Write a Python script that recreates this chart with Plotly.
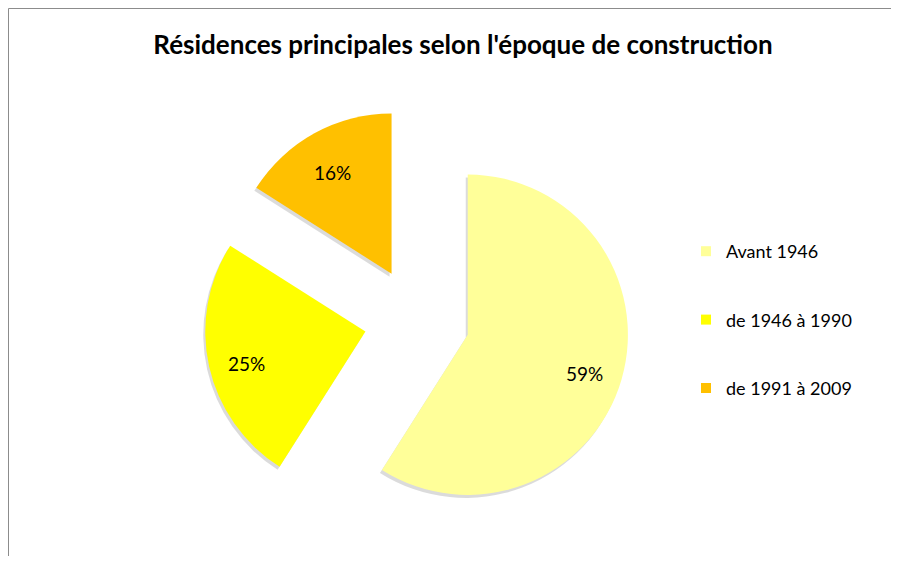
import math
import plotly.graph_objects as go

title_text = "Résidences principales selon l'époque de construction"
categories = ["Avant 1946", "de 1946 à 1990", "de 1991 à 2009"]
shares = [59, 25, 16]
colors = ["#FFFF99", "#FFFF00", "#FFC000"]

# figure sized so that, with the page's 8px body margin, no scrollbars appear
W, H = 883, 548
OFF = 8          # page margin around the figure
FONT = "Lato"
PULL = 0.33
LABEL_R = 0.76   # label distance from slice apex, as fraction of radius

# pie box in page pixels (left, top, right, bottom) -> figure pixels
bx0, by0, bx1, by1 = [v - OFF for v in (204, 107, 630, 533)]
dom_x = [bx0 / W, bx1 / W]
dom_y = [1 - by1 / H, 1 - by0 / H]

fig = go.Figure()

# drop shadow (offset copy of the pie)
sdx, sdy = -2, 3
fig.add_trace(go.Pie(
    labels=categories, values=shares, sort=False, direction="clockwise", rotation=0,
    pull=[PULL] * len(shares),
    marker=dict(colors=["rgba(0,0,0,0.14)"] * len(shares), line=dict(width=0)),
    textinfo="none", hoverinfo="skip", showlegend=False,
    domain=dict(x=[(bx0 + sdx) / W, (bx1 + sdx) / W], y=[1 - (by1 + sdy) / H, 1 - (by0 + sdy) / H]),
))

fig.add_trace(go.Pie(
    labels=categories, values=shares, sort=False, direction="clockwise", rotation=0,
    pull=[PULL] * len(shares),
    marker=dict(colors=colors, line=dict(width=0)),
    textinfo="none", hovertemplate="%{label}: %{percent:.0%}<extra></extra>",
    showlegend=False, domain=dict(x=dom_x, y=dom_y),
))

# percentage labels placed like the spreadsheet's, from the slice geometry
cx, cy = (bx0 + bx1) / 2, (by0 + by1) / 2
r = min(bx1 - bx0, by1 - by0) / 2 / (1 + PULL)
total = sum(shares)
cum = 0
annotations = []
for v in shares:
    theta = math.radians(360 * (cum + v / 2) / total)
    cum += v
    d = (PULL + LABEL_R) * r
    px = cx + d * math.sin(theta)
    py = cy - d * math.cos(theta) + 5
    annotations.append(dict(
        x=px / W, y=1 - py / H, xref="paper", yref="paper", showarrow=False,
        text=f"{round(100 * v / total)}%", xanchor="center", yanchor="middle",
        font=dict(family=FONT, size=19, color="#000000"),
    ))

# legend entries
for cat, col in zip(categories, colors):
    fig.add_trace(go.Scatter(
        x=[None], y=[None], mode="markers", name=cat, legendgroup=cat,
        marker=dict(symbol="square", size=10, color=col), hoverinfo="skip",
    ))

fig.update_layout(
    width=W, height=H,
    margin=dict(l=0, r=0, t=0, b=0),
    paper_bgcolor="white", plot_bgcolor="white",
    xaxis=dict(visible=False), yaxis=dict(visible=False),
    title=dict(text="<b>" + title_text + "</b>", x=(463 - OFF) / W, y=1 - (45 - OFF) / H,
               xanchor="center", yanchor="middle",
               font=dict(family=FONT, size=26, color="#000000")),
    legend=dict(x=(686 - OFF) / W, y=1 - (233 - OFF) / H, xanchor="left", yanchor="top",
                font=dict(family=FONT, size=18, color="#000000"),
                tracegroupgap=42, bgcolor="rgba(0,0,0,0)", itemclick=False, itemdoubleclick=False),
    annotations=annotations,
    shapes=[
        dict(type="line", xref="paper", yref="paper", x0=0.5 / W, x1=0.5 / W, y0=0, y1=1 - 0.5 / H,
             line=dict(color="#8c8c8c", width=1), layer="below"),
        dict(type="line", xref="paper", yref="paper", x0=0.5 / W, x1=1, y0=1 - 0.5 / H, y1=1 - 0.5 / H,
             line=dict(color="#8c8c8c", width=1), layer="below"),
    ],
)

fig.write_html("out.html")
